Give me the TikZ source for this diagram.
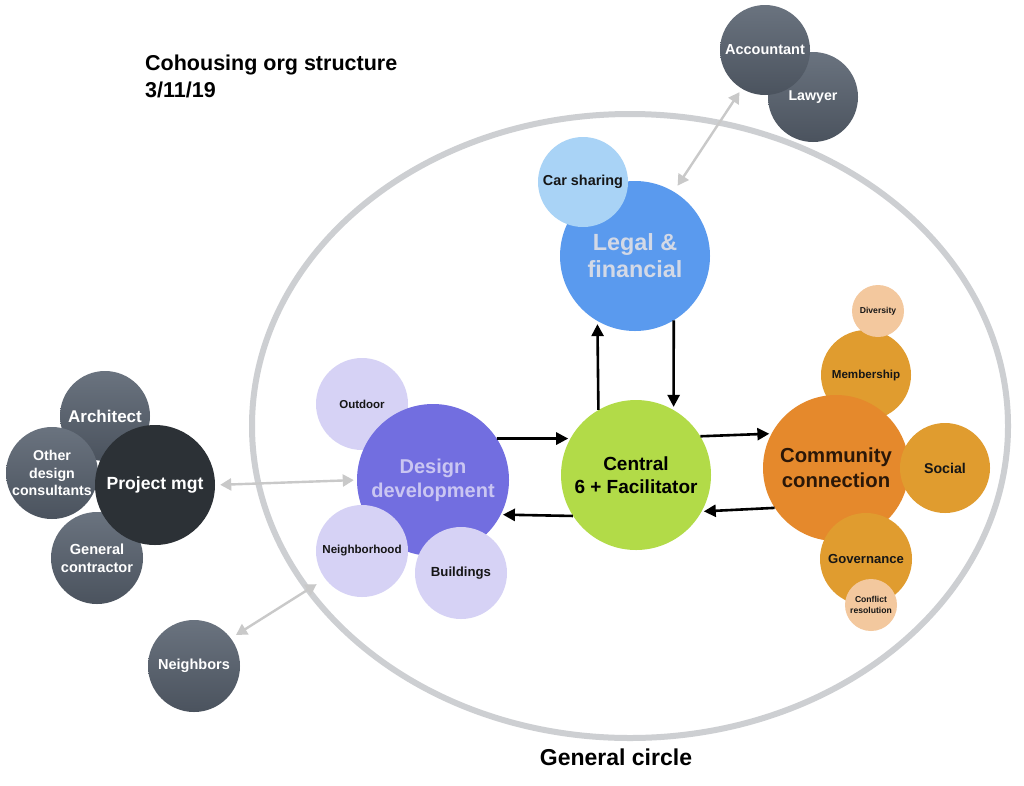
\documentclass[tikz,border=0pt]{standalone}
\usepackage{fontspec}
\setmainfont{Liberation Sans}
\usetikzlibrary{arrows.meta,shapes.geometric}
\definecolor{legalc}{HTML}{5A9AEE}
\definecolor{carc}{HTML}{A9D3F6}
\definecolor{centralc}{HTML}{B2DB48}
\definecolor{designc}{HTML}{726EE0}
\definecolor{lavc}{HTML}{D6D2F5}
\definecolor{commc}{HTML}{E5892C}
\definecolor{orc}{HTML}{E09C2F}
\definecolor{peachc}{HTML}{F3C89E}
\definecolor{gtop}{HTML}{6A737F}
\definecolor{gbot}{HTML}{4B535E}
\definecolor{darkc}{HTML}{2C3136}
\definecolor{ellc}{HTML}{CDCFD2}
\definecolor{garr}{HTML}{C9C9C9}
\definecolor{legaltxt}{HTML}{D3D9E6}
\definecolor{designtxt}{HTML}{CAC6F2}
\definecolor{commtxt}{HTML}{2B1708}
\definecolor{inktxt}{HTML}{161616}
\newcommand\fsz[2]{\fontsize{#1}{#2}\selectfont\bfseries}
\begin{document}
\begin{tikzpicture}[x=1pt,y=-1pt,
  bub/.style={circle,inner sep=0pt,align=center,text=inktxt},
  graybub/.style={bub,top color=gtop,bottom color=gbot,text=white},
  blk/.style={line width=2.6pt,-{Triangle[length=12pt,width=12pt]}},
  gar/.style={line width=2.4pt,draw=garr,{Triangle[length=11pt,width=12pt]}-{Triangle[length=11pt,width=12pt]}}]
\useasboundingbox (0,0) rectangle (1024,785);
\fill[white] (0,0) rectangle (1024,785);

% title
\node[anchor=base west,inner sep=0pt,text=black,font=\fsz{21.5}{26}] (title1) at (145,70) {Cohousing org structure};
\node[anchor=base west,inner sep=0pt,text=black,font=\fsz{21.5}{26}] (title2) at (145,97) {3/11/19};

% outer ellipse
\node[draw=ellc,line width=6pt,ellipse,minimum width=756pt,minimum height=624pt,inner sep=0pt] (gen) at (630,426) {};
\node[anchor=base,inner sep=0pt,text=black,font=\fsz{23}{27}] (genlbl) at (616,765) {General circle};

% top right
\node[graybub,minimum size=90pt,font=\fsz{14.2}{17}] (lawyer) at (813,97) {Lawyer};
\node[graybub,minimum size=90pt,font=\fsz{14.5}{17}] (accountant) at (765,50) {Accountant};

% left cluster
\node[graybub,minimum size=90pt,font=\fsz{17}{20}] (architect) at (105,416) {Architect};
\node[graybub,minimum size=92pt,font=\fsz{14.2}{17.5}] (other) at (52,473) {Other\\design\\consultants};
\node[graybub,minimum size=92pt,font=\fsz{14.6}{18}] (gc) at (97,558) {General\\contractor};
\node[bub,fill=darkc,text=white,minimum size=120pt,font=\fsz{17.6}{21}] (pm) at (155,485) {Project mgt};
\node[graybub,minimum size=92pt,font=\fsz{14.5}{17}] (neighbors) at (194,666) {Neighbors};

% legal
\node[bub,fill=legalc,text=legaltxt,minimum size=150pt,font=\fsz{23.4}{27}] (legal) at (635,256) {Legal \&\\financial};
\node[bub,fill=carc,minimum size=90pt,font=\fsz{14.4}{17}] (car) at (583,182) {Car sharing};

% design
\node[bub,fill=lavc,minimum size=92pt,font=\fsz{11.5}{14}] (outdoor) at (362,404) {Outdoor};
\node[bub,fill=designc,text=designtxt,minimum size=152pt,font=\fsz{20}{24}] (design) at (433,480) {Design\\development};
\node[bub,fill=lavc,minimum size=92pt,font=\fsz{11.6}{14}] (neighborhood) at (362,551) {Neighborhood};
\node[bub,fill=lavc,minimum size=92pt,font=\fsz{13.2}{16}] (buildings) at (461,573) {Buildings};

% central
\node[bub,fill=centralc,text=black,minimum size=150pt,font=\fsz{19}{23}] (central) at (636,475) {Central\\6 + Facilitator};

% community
\node[bub,fill=orc,minimum size=90pt,font=\fsz{11.6}{14}] (membership) at (866,375) {Membership};
\node[bub,fill=peachc,minimum size=52pt,font=\fsz{8.6}{10}] (diversity) at (878,311) {Diversity};
\node[bub,fill=commc,text=commtxt,minimum size=146pt,font=\fsz{20.3}{25}] (community) at (836,468) {Community\\connection};
\node[bub,fill=orc,minimum size=90pt,font=\fsz{14.2}{17}] (social) at (945,468) {Social};
\node[bub,fill=orc,minimum size=92pt,font=\fsz{13.1}{16}] (governance) at (866,559) {Governance};
\node[bub,fill=peachc,minimum size=52pt,font=\fsz{8.6}{10.5}] (conflict) at (871,605) {Conflict\\resolution};

% black arrows
\draw[blk,shorten >=3pt] (central.120) -- (legal.240);
\draw[blk,shorten >=3pt] (legal.301) -- (central.60);
\draw[blk,shorten >=2pt] (design.33) -- (central.151);
\draw[blk,shorten >=2pt] (central.213) -- (design.333);
\draw[blk,shorten >=2pt] (central.31) -- (community.152);
\draw[blk,shorten >=2pt] (community.213) -- (central.331);

% gray arrows
\draw[gar,shorten <=5pt,shorten >=3pt] (pm.east) -- (design.west);
\draw[gar,shorten <=10pt,shorten >=6pt] (neighborhood.217) -- (neighbors.37);
\draw[gar,shorten <=4pt,shorten >=7pt] (accountant.239) -- (legal.59);
\end{tikzpicture}
\end{document}
